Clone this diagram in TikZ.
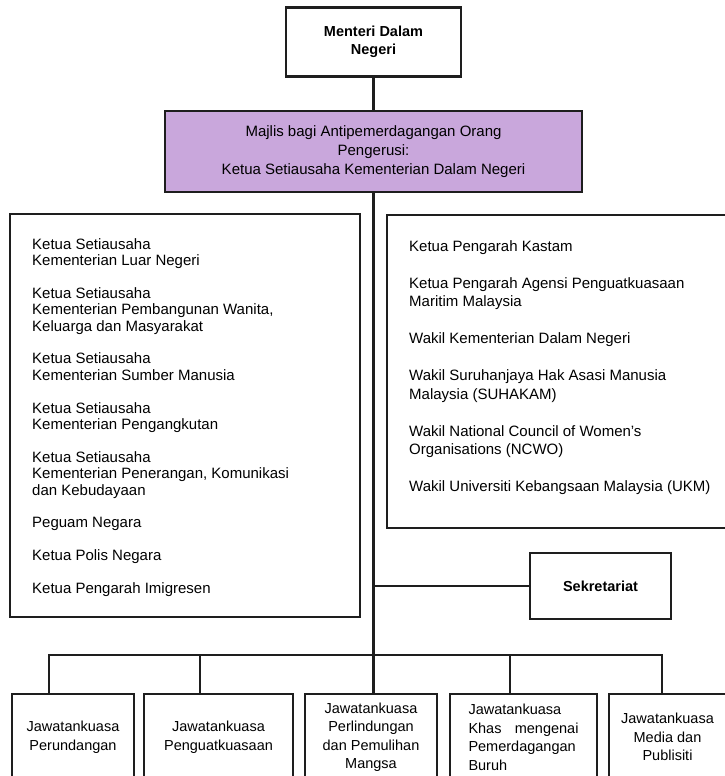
\documentclass[tikz,border=0pt]{standalone}
\usepackage{fontspec}
\setmainfont{Liberation Sans}
\usetikzlibrary{positioning}
\definecolor{ungu}{RGB}{201,167,220}
\definecolor{garisan}{RGB}{30,30,30}

\begin{document}
\begin{tikzpicture}[x=1pt,y=-1pt,
        kotak/.style={draw=garisan,line width=2.3pt,inner sep=0pt,align=center},
        garis/.style={draw=garisan,line width=2.4pt},
        tipis/.style={draw=garisan,line width=1.3pt},
        jawatan/.style={kotak,anchor=north,minimum height=86pt,font=\fontsize{14.5}{18.6}\selectfont},
        senarai/.style={anchor=north west,align=left,inner sep=0pt}]
    \useasboundingbox (0,0) rectangle (725,776);
    \clip (0,0) rectangle (725,776);
    \node[kotak,minimum width=175pt,minimum height=69pt,font=\bfseries\fontsize{14.5}{18}\selectfont] (menteri) at (373.5,42) {Menteri Dalam\\Negeri};
    \node[kotak,fill=ungu,minimum width=417pt,minimum height=81pt,font=\fontsize{15}{19}\selectfont] (majlis) at (373.5,151.5)
        {Majlis bagi Antipemerdagangan Orang\\Pengerusi:\\Ketua Setiausaha Kementerian Dalam Negeri};
    \node[kotak,minimum width=350pt,minimum height=403pt] (kiri) at (185,415.5) {};
    \node[kotak,minimum width=358pt,minimum height=313pt] (kanan) at (566,371.5) {};
    \node[senarai,font=\fontsize{15}{16.4}\selectfont] (ahlikiri) at (32,238) {%
        Ketua Setiausaha\\Kementerian Luar Negeri\\[16.4pt]
        Ketua Setiausaha\\Kementerian Pembangunan Wanita,\\Keluarga dan Masyarakat\\[16.4pt]
        Ketua Setiausaha\\Kementerian Sumber Manusia\\[16.4pt]
        Ketua Setiausaha\\Kementerian Pengangkutan\\[16.4pt]
        Ketua Setiausaha\\Kementerian Penerangan, Komunikasi\\dan Kebudayaan\\[16.4pt]
        Peguam Negara\\[16.4pt]
        Ketua Polis Negara\\[16.4pt]
        Ketua Pengarah Imigresen};
    \node[senarai,font=\fontsize{15}{18.5}\selectfont] (ahlikanan) at (409,240) {%
        Ketua Pengarah Kastam\\[18.5pt]
        Ketua Pengarah Agensi Penguatkuasaan\\Maritim Malaysia\\[18.5pt]
        Wakil Kementerian Dalam Negeri\\[18.5pt]
        Wakil Suruhanjaya Hak Asasi Manusia\\Malaysia (SUHAKAM)\\[18.5pt]
        Wakil National Council of Women's\\Organisations (NCWO)\\[18.5pt]
        Wakil Universiti Kebangsaan Malaysia (UKM)};
    \node[kotak,line width=2.6pt,minimum width=141pt,minimum height=66pt,font=\bfseries\fontsize{14.5}{18}\selectfont] (sekretariat) at (600.5,586) {Sekretariat};
    \node[jawatan,minimum width=122pt] (b1) at (73,693) {Jawatankuasa\\Perundangan};
    \node[jawatan,minimum width=149pt] (b2) at (218.5,693) {Jawatankuasa\\Penguatkuasaan};
    \node[jawatan,minimum width=132pt] (b3) at (371,693) {Jawatankuasa\\Perlindungan\\dan Pemulihan\\Mangsa};
    \node[jawatan,minimum width=147pt,text width=110pt,align=left] (b4) at (523.5,693) {Jawatankuasa\\Khas\hfill mengenai\\Pemerdagangan\\Buruh};
    \node[jawatan,minimum width=117pt] (b5) at (667.5,693) {Jawatankuasa\\Media dan\\Publisiti};
    \coordinate (c1) at (49,655);
    \coordinate (c2) at (200,655);
    \coordinate (c3) at (373.5,655);
    \coordinate (c4) at (510,655);
    \coordinate (c5) at (662,655);
    \draw[garis] (menteri) -- (majlis);
    \draw[garis] (majlis.south) -- (c3);
    \draw[tipis] (sekretariat.west -| c3) -- (sekretariat.west);
    \draw[garis] (b1.north -| c1) |- (c5) -- (b5.north -| c5);
    \foreach \i in {2,3,4}{
        \draw[garis] (c\i) -- (b\i.north -| c\i);
    }
\end{tikzpicture}
\end{document}
